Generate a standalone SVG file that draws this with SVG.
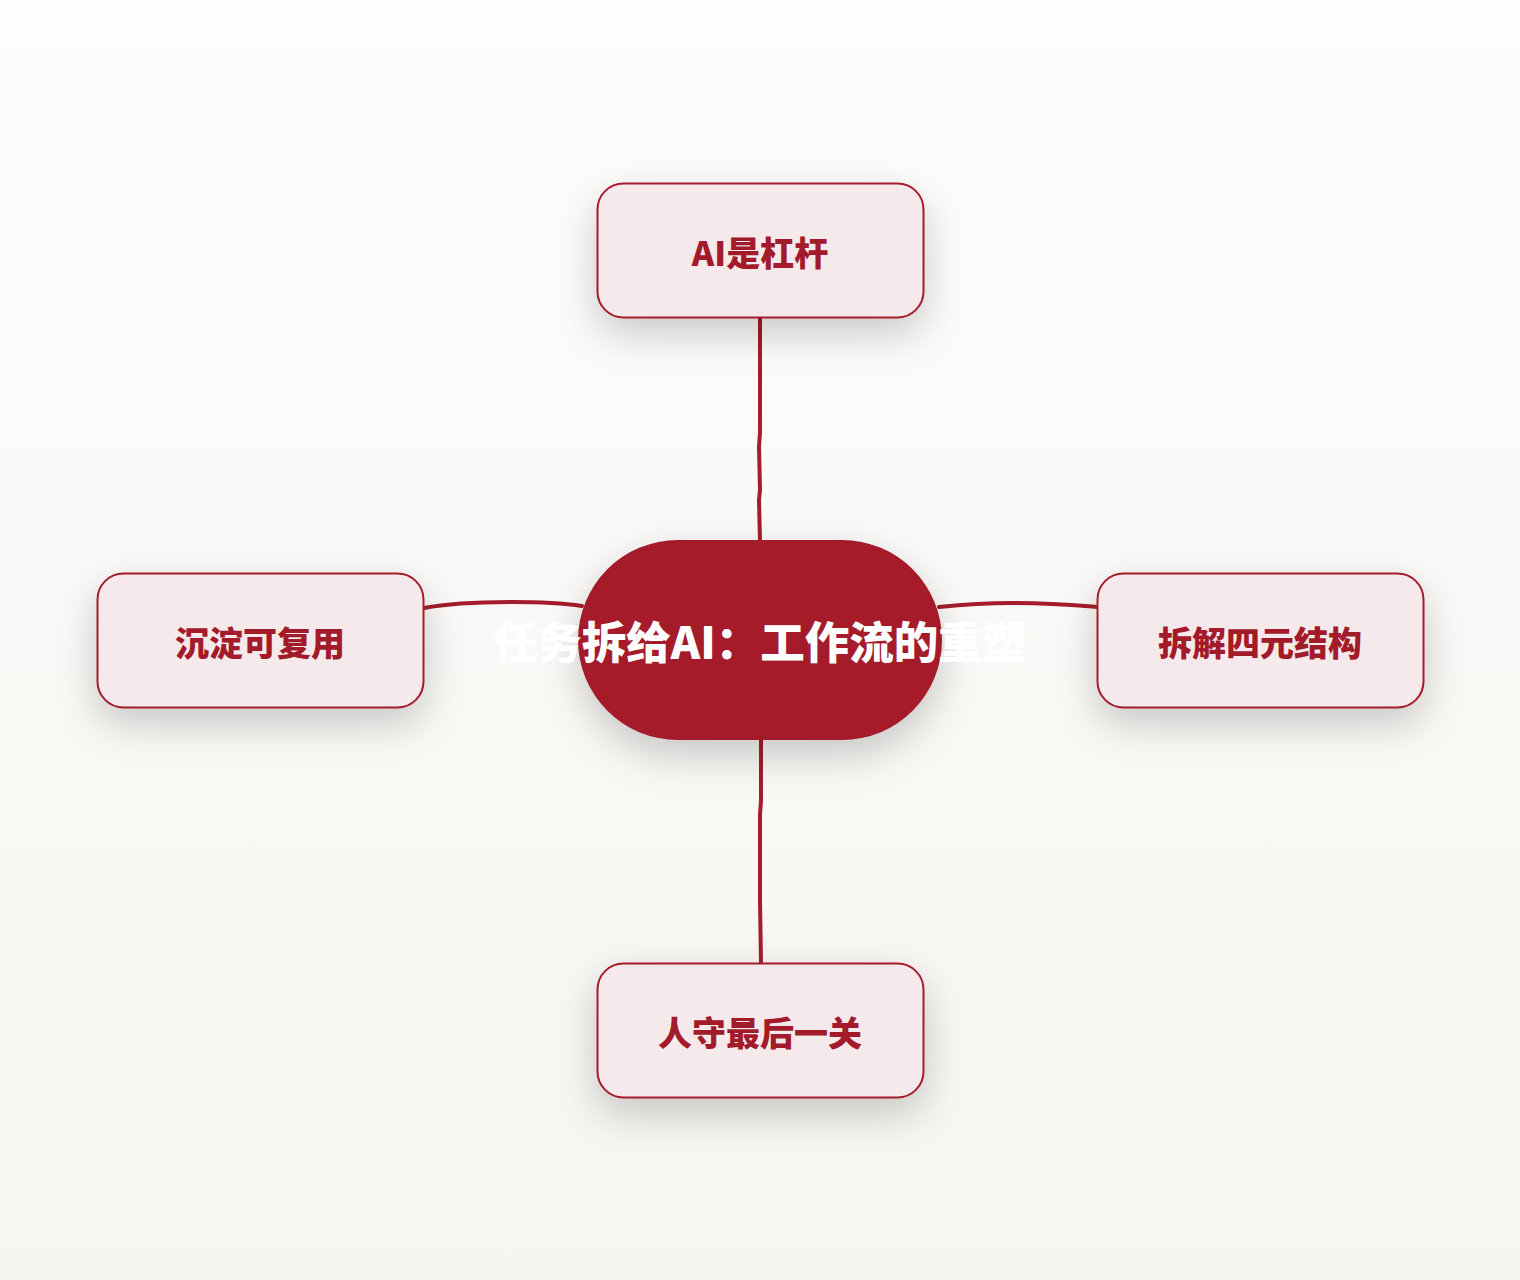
<svg xmlns="http://www.w3.org/2000/svg" width="1520" height="1280" viewBox="0 0 1520 1280">
  <defs>
    <linearGradient id="bg" x1="0" y1="0" x2="0" y2="1">
      <stop offset="0" stop-color="#fdfdfc"/>
      <stop offset="1" stop-color="#f7f5f1"/>
    </linearGradient>
    <filter id="shadow" x="-50%" y="-60%" width="200%" height="240%" color-interpolation-filters="sRGB">
      <feDropShadow dx="0" dy="15" stdDeviation="20" flood-color="#000000" flood-opacity="0.2"/>
    </filter>
    <style>
      .child rect { fill: #f5e9ec; stroke: #a51c2b; stroke-width: 2; filter: url(#shadow); }
      .child text { fill: #a31a2b; font-family: "Noto Sans CJK SC", "Noto Sans", sans-serif; font-weight: 900; font-size: 34px; text-anchor: middle; }
      .conn path { fill: none; stroke: #a51c2b; stroke-width: 4; stroke-linecap: round; }
      .hub rect { fill: #a51b2a; filter: url(#shadow); }
      .hub text { fill: #ffffff; font-family: "Noto Sans CJK SC", "Noto Sans", sans-serif; font-weight: 900; font-size: 44.5px; text-anchor: middle; }
    </style>
  </defs>
  <rect x="0" y="0" width="1520" height="1280" fill="url(#bg)"/>

  <g id="connectors" class="conn">
    <path d="M760,318 L760,433 L759,446 L760,490 L759,500 L760,541"/>
    <path d="M761,740 L761,800 L760,815 L760,900 L761,963"/>
    <path d="M424,608 C450,603 480,602 512,602 C545,602 562,603 582,606"/>
    <path d="M939,607 C968,604 990,603 1012,603 C1050,603 1072,605 1097,607"/>
  </g>

  <g id="hub" class="hub">
    <rect x="578" y="540" width="364" height="200" rx="100" ry="100"/>
    <text x="760" y="659">任务拆给AI：工作流的重塑</text>
  </g>

  <g id="node-top" class="child">
    <rect x="597.5" y="183.5" width="326" height="134" rx="26" ry="26"/>
    <text x="760" y="266">AI是杠杆</text>
  </g>

  <g id="node-left" class="child">
    <rect x="97.5" y="573.5" width="326" height="134" rx="26" ry="26"/>
    <text x="260" y="656">沉淀可复用</text>
  </g>

  <g id="node-right" class="child">
    <rect x="1097.5" y="573.5" width="326" height="134" rx="26" ry="26"/>
    <text x="1260" y="656">拆解四元结构</text>
  </g>

  <g id="node-bottom" class="child">
    <rect x="597.5" y="963.5" width="326" height="134" rx="26" ry="26"/>
    <text x="760" y="1046">人守最后一关</text>
  </g>
</svg>
